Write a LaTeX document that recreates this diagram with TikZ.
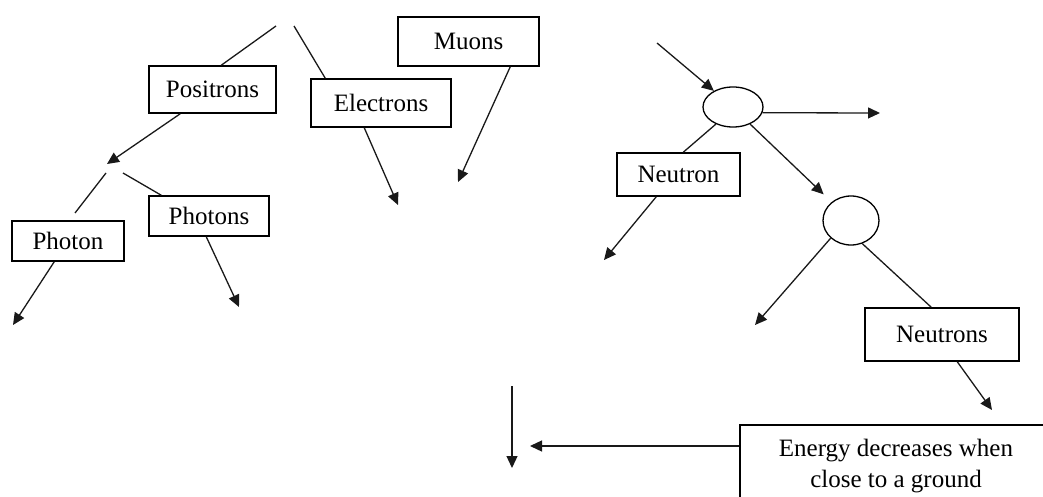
\documentclass[tikz,border=0pt]{standalone}
\usepackage{fontspec}
\setmainfont{Liberation Serif}
\usetikzlibrary{arrows.meta,shapes.geometric}
\begin{document}
\begin{tikzpicture}[x=1pt,y=-1pt,
  every node/.style={font=\fontsize{25}{31}\selectfont, inner sep=0pt},
  pbox/.style={draw, line width=1.5pt, rectangle},
  oval/.style={draw, line width=1.3pt, ellipse, inner sep=0pt},
  conn/.style={draw=black!90, line width=1.3pt},
  arr/.style={conn, -{Triangle[length=12pt,width=11pt]}}]
\useasboundingbox (0,0) rectangle (1043,497);
% boxes
\node[pbox, minimum width=127, minimum height=47] (pos) at (212.5,89.5) {Positrons};
\node[pbox, minimum width=140, minimum height=48] (elec) at (381,103) {Electrons};
\node[pbox, minimum width=141, minimum height=49] (muon) at (468.5,41.5) {Muons};
\node[pbox, minimum width=120, minimum height=40] (phs) at (209,216) {Photons};
\node[pbox, minimum width=112, minimum height=40] (ph) at (68,241) {Photon};
\node[pbox, minimum width=123, minimum height=43] (neu) at (678.5,174.5) {Neutron};
\node[pbox, minimum width=154, minimum height=53] (neus) at (942,334.5) {Neutrons};
\node[pbox, minimum width=312, minimum height=82, align=center] (energy) at (896,466) {Energy decreases when\\close to a ground};
\node[oval, minimum width=60, minimum height=40] (e1) at (733,107) {};
\node[oval, minimum width=56, minimum height=49] (c2) at (851,220.5) {};
% free ends
\coordinate (t1) at (276,26);
\coordinate (t2) at (294,26);
\coordinate (mend) at (458,182);
\coordinate (eend) at (398,205);
\coordinate (pend) at (107,164);
\coordinate (l1a) at (106,173);
\coordinate (l1b) at (75,213);
\coordinate (l2a) at (123,173);
\coordinate (phend) at (13,325);
\coordinate (phsend) at (239,307);
\coordinate (inA) at (657,43);
\coordinate (e1end) at (880,113);
\coordinate (neuend) at (604,260);
\coordinate (c2end) at (755,325);
\coordinate (neusend) at (992,410);
\coordinate (enend) at (530,446);
\coordinate (dA) at (512,386);
\coordinate (dB) at (512,468);
% connectors left
\draw[conn] (t1) -- ([xshift=73pt]pos.north west);
\draw[conn] (t2) -- ([xshift=15pt]elec.north west);
\draw[arr] ([xshift=113pt]muon.south west) -- (mend);
\draw[arr] ([xshift=54pt]elec.south west) -- (eend);
\draw[arr] ([xshift=32pt]pos.south west) -- (pend);
\draw[conn] (l1a) -- (l1b);
\draw[conn] (l2a) -- ([xshift=13pt]phs.north west);
\draw[arr] ([xshift=43pt]ph.south west) -- (phend);
\draw[arr] ([xshift=58pt]phs.south west) -- (phsend);
% connectors right
\draw[arr] (inA) -- (e1);
\draw[arr] (e1.-11) -- (e1end);
\draw[arr, shorten >=11pt] (e1.-45) -- (c2);
\draw[conn] (e1.-135) -- ([xshift=67pt]neu.north west);
\draw[arr] ([xshift=40pt]neu.south west) -- (neuend);
\draw[arr] (c2.-139) -- (c2end);
\draw[conn] (c2.-64) -- ([xshift=67pt]neus.north west);
\draw[arr] ([xshift=93pt]neus.south west) -- (neusend);
\draw[arr] ([yshift=20pt]energy.west) -- (enend);
\draw[arr] (dA) -- (dB);
\end{tikzpicture}
\end{document}
